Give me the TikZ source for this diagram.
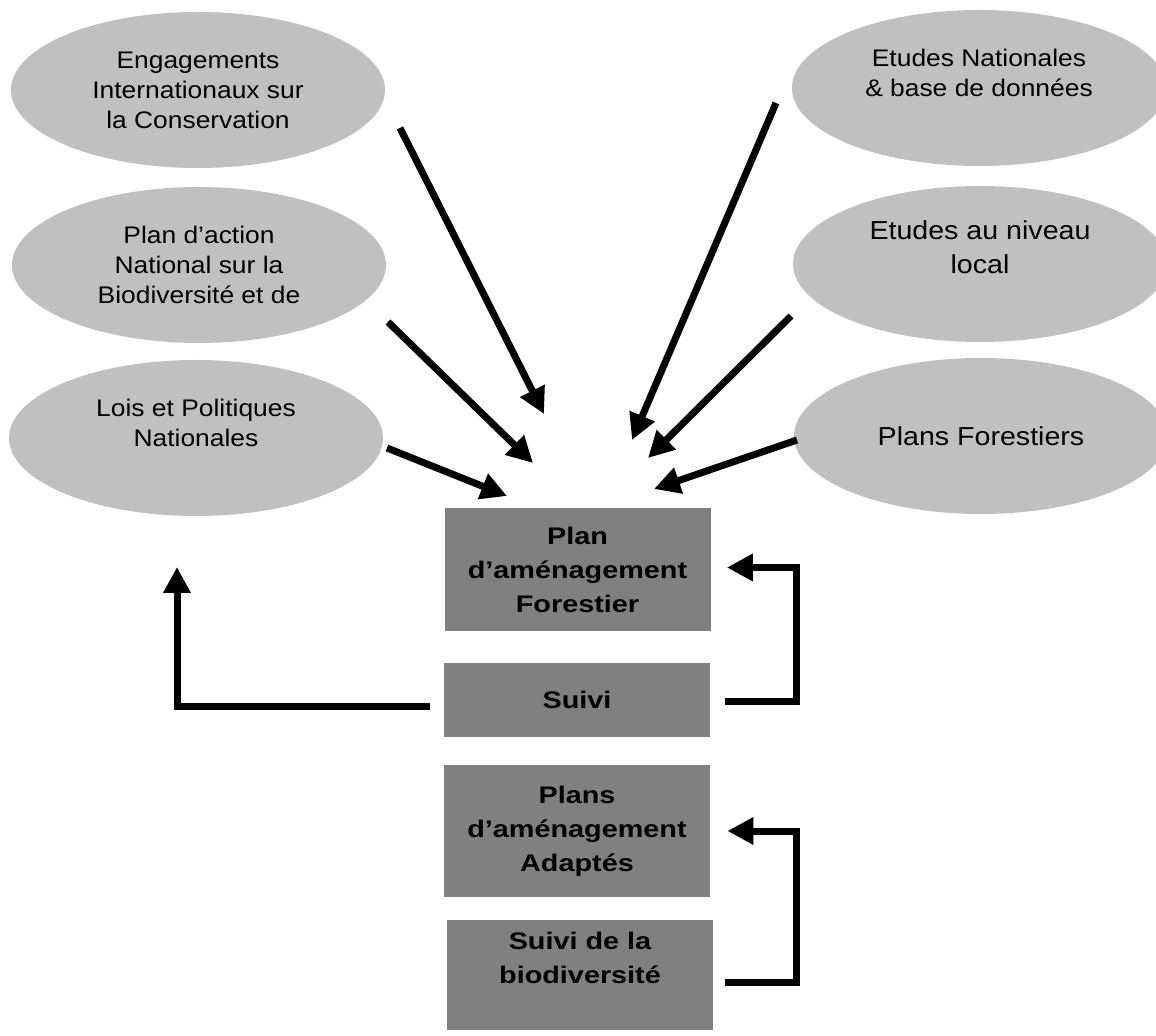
\documentclass[tikz,border=0pt]{standalone}
\usepackage{fontspec}
\setmainfont[FakeStretch=1.1]{Liberation Sans}
\newfontfamily\boxfont[FakeStretch=1.2]{Liberation Sans}
\usetikzlibrary{arrows.meta,shapes.geometric}
\definecolor{ovalgrey}{HTML}{C0C0C0}
\definecolor{boxgrey}{HTML}{808080}

\begin{document}
\begin{tikzpicture}[x=0.5pt,y=-0.5pt,
        oval/.style={ellipse,fill=ovalgrey,minimum width=187pt,minimum height=78pt,inner sep=0pt,
            align=center,font=\fontsize{12}{15}\selectfont},
        bigoval/.style={oval,font=\fontsize{13}{17}\selectfont},
        box/.style={rectangle,fill=boxgrey,minimum width=133pt,inner sep=0pt,
            align=center,font=\boxfont\fontsize{12}{17}\selectfont\bfseries},
        fleche/.style={line width=3.5pt,-{Triangle[length=13pt,width=13pt]}}]
        \useasboundingbox (0,0) rectangle (1156,1036);
        % sources
        \node[oval] (engage) at (198,90) {Engagements\\Internationaux sur\\la Conservation};
        \node[oval] (plan) at (199,265) {Plan d’action\\National sur la\\Biodiversité et de};
        \node[oval] (lois) at (196,438) {Lois et Politiques\\Nationales\\\mbox{}};
        \node[oval] (etnat) at (979,88) {Etudes Nationales\\\& base de données\\\mbox{}};
        \node[bigoval] (etloc) at (980,264) {Etudes au niveau\\local\\\mbox{}};
        \node[bigoval] (plfor) at (981,436) {Plans Forestiers};
        % plans
        \node[box,minimum height=61.5pt] (amen) at (577.5,569.5) {Plan\\d’aménagement\\Forestier};
        \node[box,minimum height=37pt] (suivi) at (577,700) {Suivi};
        \node[box,minimum height=66pt] (adapt) at (577,831) {Plans\\d’aménagement\\Adaptés};
        \node[box,minimum height=55pt] (suivbio) at (580,975) {Suivi de la\\biodiversité\\\mbox{}};
        % arrow ends
        \coordinate (engA) at (400,128); \coordinate (engB) at (544,414);
        \coordinate (plaA) at (388,322); \coordinate (plaB) at (533,463);
        \coordinate (loiA) at (387,448); \coordinate (loiB) at (507,496);
        \coordinate (natA) at (776,103); \coordinate (natB) at (632,440);
        \coordinate (locA) at (791,316); \coordinate (locB) at (648,458);
        \coordinate (forA) at (797,440); \coordinate (forB) at (654,489);
        \coordinate (retour) at (177,567);
        \draw[fleche] (engA) -- (engB);
        \draw[fleche] (plaA) -- (plaB);
        \draw[fleche] (loiA) -- (loiB);
        \draw[fleche] (natA) -- (natB);
        \draw[fleche] (locA) -- (locB);
        \draw[fleche] (forA) -- (forB);
        % feedback
        \draw[fleche] ([xshift=7.5pt,yshift=-1pt]suivi.east) -| ([xshift=43pt,yshift=1pt]amen.east)
            -- ([xshift=8pt,yshift=1pt]amen.east);
        \draw[fleche] ([xshift=6pt,yshift=-3.5pt]suivbio.east) -| ([xshift=43pt]adapt.east)
            -- ([xshift=8.5pt]adapt.east);
        \draw[fleche] ([xshift=-7pt,yshift=-3.5pt]suivi.west) -| (retour);
    \end{tikzpicture}
\end{document}
